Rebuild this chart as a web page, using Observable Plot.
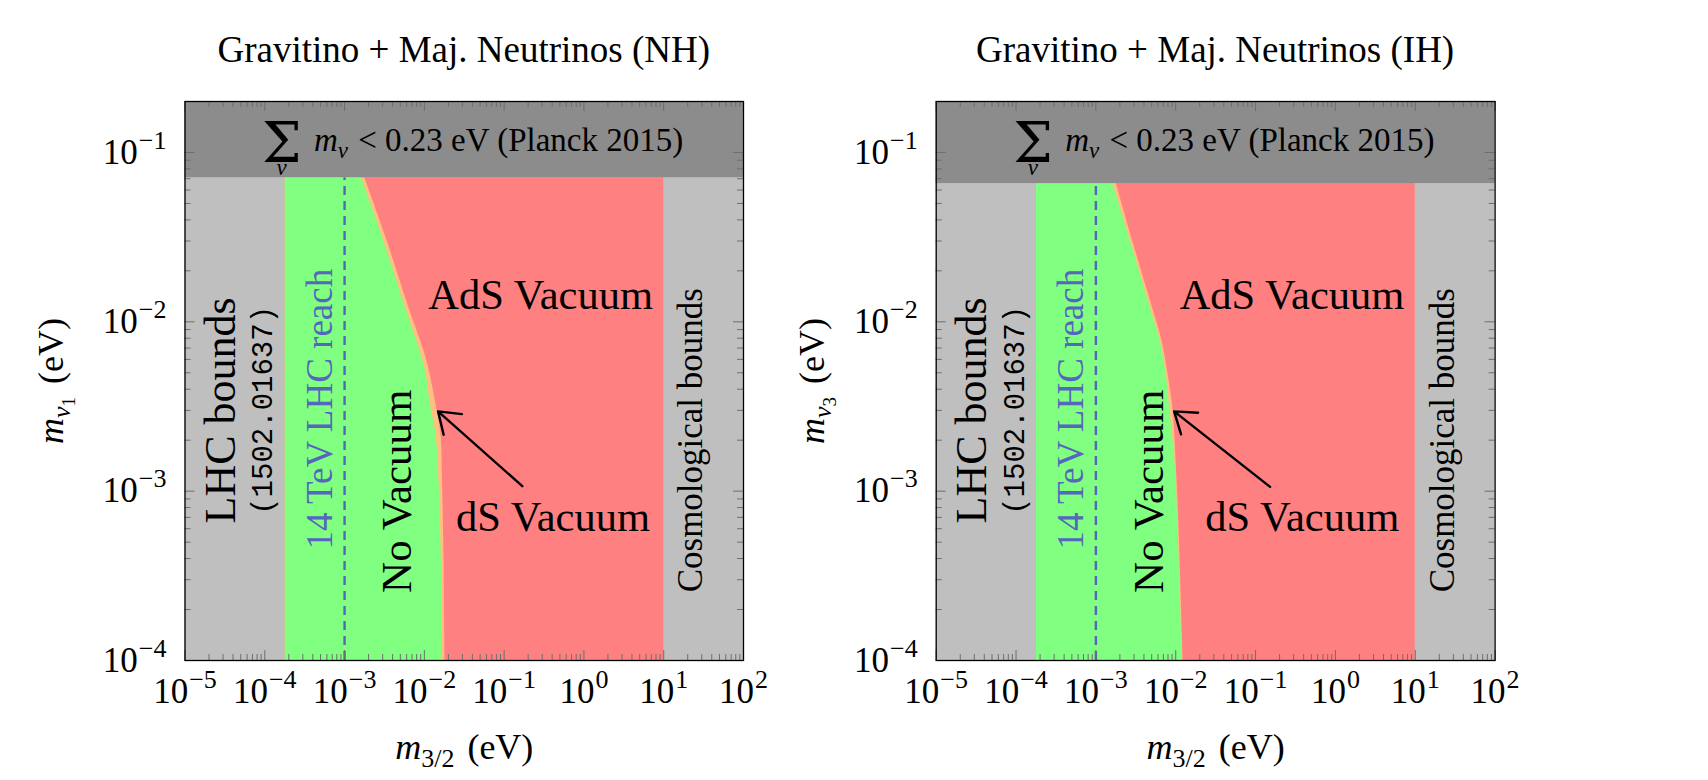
<!DOCTYPE html>
<html><head><meta charset="utf-8">
<script src="https://cdn.jsdelivr.net/npm/d3@7"></script>
<script src="https://cdn.jsdelivr.net/npm/@observablehq/plot@0.6"></script>
<style>
html,body{margin:0;padding:0;background:#fff;}
#fig{position:relative;width:1708px;height:780px;overflow:hidden;font-family:"Liberation Serif",serif;color:#000;}
.panel{position:absolute;top:0;width:854px;height:780px;}
.title{position:absolute;top:30px;height:40px;line-height:40px;font-size:37px;text-align:center;white-space:nowrap;}
.panel svg{position:absolute;top:80px;left:0;overflow:visible;}
</style></head><body><div id="fig"></div>
<script>
// ---------- data ----------
const xDomain = [1e-5, 1e2];           // m_{3/2} (eV)
const yDomain = [1e-4, 0.2];           // lightest neutrino mass (eV)
const xTickValues = [1e-5, 1e-4, 1e-3, 1e-2, 1e-1, 1e0, 1e1, 1e2];
const yTickValues = [1e-4, 1e-3, 1e-2, 1e-1];
const titles = ["Gravitino + Maj. Neutrinos (NH)", "Gravitino + Maj. Neutrinos (IH)"];
const yLabels = ["mν1 (eV)", "mν3 (eV)"];
const xLabel = "m3/2 (eV)";

const lhcBound = 1.8e-4;      // LHC bounds (1502.01637)
const lhc14Reach = 1e-3;      // 14 TeV LHC reach
const cosmoBound = 10;        // cosmological bounds
const planckNH = 0.071;       // sum m_nu < 0.23 eV, NH
const planckIH = 0.0655;      // sum m_nu < 0.23 eV, IH

// boundary of the vacuum regions (NH)
const mLightNH   = [0.071, 0.0318, 0.01285, 6.52e-3, 4.73e-3, 3.30e-3, 2.2e-3, 1.11e-3, 3.56e-4, 1e-4];
const noVacEdgeNH = [1.63e-3, 2.98e-3, 5.56e-3, 9.0e-3, 0.0107, 0.0118, 0.0139, 0.0153, 0.0164, 0.0169];
const adsEdgeNH   = [1.79e-3, 3.28e-3, 6.14e-3, 0.0101, 0.0120, 0.0139, 0.0161, 0.0169, 0.0177, 0.0182];
// boundary of the vacuum regions (IH)
const mLightIH   = [0.0655, 0.0298, 0.0120, 7.62e-3, 4.84e-3, 3.05e-3, 1.39e-3, 5.64e-4, 1e-4];
const noVacEdgeIH = [1.63e-3, 2.72e-3, 4.83e-3, 6.44e-3, 7.6e-3, 8.43e-3, 9.9e-3, 0.01074, 0.01216];
const adsEdgeIH   = [1.80e-3, 2.90e-3, 5.16e-3, 6.77e-3, 8.05e-3, 9.25e-3, 0.0102, 0.01107, 0.0124];

// annotation anchors (data coordinates)
const rotatedNotes = [
  {text: "LHC bounds", x: 2.79e-5, y: 3.0e-3},
  {text: "14 TeV LHC reach", x: 4.88e-4, y: 3.05e-3},
  {text: "No Vacuum", x: 4.63e-3, y: 1.0e-3},
  {text: "Cosmological bounds", x: 22, y: 2.0e-3}
];
const arxivNote = [{text: "(1502.01637)", x: 9.5e-5, y: 3.0e-3}];
const vacuumNotesNH = [{text: "AdS Vacuum", x: 7.35, y: 0.01439}, {text: "dS Vacuum", x: 6.73, y: 7.0e-4}];
const vacuumNotesIH = [{text: "AdS Vacuum", x: 7.3, y: 0.01439}, {text: "dS Vacuum", x: 6.3, y: 7.0e-4}];
const arrowNH = [{x1: 0.169, y1: 1.07e-3, x2: 0.01486, y2: 2.96e-3}];
const arrowIH = [{x1: 0.152, y1: 1.06e-3, x2: 9.55e-3, y2: 2.96e-3}];
const sumText = "Σν mν < 0.23 eV (Planck 2015)";
const sumNote = [{text: sumText, x: 9.2e-5, y: 0.117}];

// ---------- drawing ----------
const SVGNS = "http://www.w3.org/2000/svg";
function setParts(el, parts) {
  while (el.firstChild) el.removeChild(el.firstChild);
  for (const p of parts) {
    const ts = document.createElementNS(SVGNS, "tspan");
    ts.textContent = p.t;
    if (p.size) ts.setAttribute("font-size", p.size);
    if (p.font) ts.setAttribute("font-family", p.font);
    if (p.it) ts.setAttribute("font-style", "italic");
    if (p.dy) ts.setAttribute("dy", p.dy);
    if (p.dx) ts.setAttribute("dx", p.dx);
    el.appendChild(ts);
  }
}
function richify(svg) {
  svg.querySelectorAll("text").forEach(el => {
    const s = el.textContent;
    let m;
    if ((m = /^10\^(-?\d+)$/.exec(s))) {
      const e = +m[1];
      setParts(el, [{t: "10"}, {t: (e < 0 ? "\u2212" : "") + Math.abs(e), size: 26, dy: -15, dx: 1}]);
    } else if (s === xLabel) {
      setParts(el, [{t: "m", it: true}, {t: "3/2", size: 26, dy: 8}, {t: " (eV)", dy: -8, dx: 4}]);
    } else if (/^mν\d \(eV\)$/.test(s)) {
      setParts(el, [{t: "m", it: true}, {t: "ν", it: true, size: 26, dy: 7}, {t: s[2], size: 19, dy: 5}, {t: " (eV)", dy: -12, dx: 4}]);
    } else if (s === sumText) {
      setParts(el, [{t: "Σ", size: 56, font: '"DejaVu Serif", serif', dy: 11}, {t: "ν", it: true, size: 23, dy: 13},
                    {t: "m", it: true, dy: -24}, {t: "ν", it: true, size: 23, dy: 7},
                    {t: " < 0.23 eV (Planck 2015)", dy: -7, dx: 2}]);
      const ts = el.querySelectorAll("tspan");
      const wS = ts[0].getComputedTextLength(), wN = ts[1].getComputedTextLength();
      ts[1].setAttribute("dx", -(wS + wN) / 2);
      ts[2].setAttribute("dx", 52 - (wS + wN) / 2);
    }
  });
}

function minorTicks(lo, hi) {
  const out = [];
  for (let e = Math.floor(Math.log10(lo)); e < Math.ceil(Math.log10(hi)); e++)
    for (let k = 2; k < 10; k++) { const v = k * Math.pow(10, e); if (v > lo && v < hi) out.push(v); }
  return out;
}

function makePanel(cfg) {
  const W = 854, H = 700, mt = 21, mb = 120;
  const frameH = H - mt - mb, frameW = W - cfg.marginLeft - cfg.marginRight;
  const rows = cfg.ys.map((y, i) => ({y, g: cfg.green[i], r: cfg.red[i]}));
  const minX = minorTicks(xDomain[0], xDomain[1]);
  const minY = minorTicks(yDomain[0], yDomain[1]);
  const tickStroke = "#6e6e6e", maj = 10, mnr = 6;
  const curve = "catmull-rom";
  const blue = "#5566bd";
  const xMid = Math.sqrt(xDomain[0] * xDomain[1]);
  const yMid = Math.sqrt(yDomain[0] * yDomain[1]);
  return Plot.plot({
    width: W, height: H, marginTop: mt, marginBottom: mb,
    marginLeft: cfg.marginLeft, marginRight: cfg.marginRight,
    x: {type: "log", domain: xDomain},
    y: {type: "log", domain: yDomain},
    style: {fontFamily: '"Liberation Serif", serif', fontSize: "35px", background: "transparent", overflow: "visible", color: "black"},
    marks: [
      Plot.rect([{x1: xDomain[0], x2: xDomain[1], y1: yDomain[0], y2: yDomain[1]}], {x1: "x1", x2: "x2", y1: "y1", y2: "y2", fill: "#bfbfbf"}),
      Plot.rect([{x1: lhcBound, x2: cosmoBound, y1: yDomain[0], y2: cfg.planck}], {x1: "x1", x2: "x2", y1: "y1", y2: "y2", fill: "#ff8080"}),
      Plot.areaX(rows, {y: "y", x1: lhcBound, x2: "r", fill: "#ffbf80", curve}),
      Plot.areaX(rows, {y: "y", x1: lhcBound, x2: "g", fill: "#80ff80", curve}),
      Plot.ruleX([lhc14Reach], {x: d => d, y1: yDomain[0], y2: cfg.planck, stroke: blue, strokeWidth: 2.4, strokeDasharray: "9,6"}),
      Plot.rect([{x1: xDomain[0], x2: xDomain[1], y1: cfg.planck, y2: yDomain[1]}], {x1: "x1", x2: "x2", y1: "y1", y2: "y2", fill: "#8c8c8c"}),
      // inward ticks on all four sides
      Plot.tickX(minX, {x: d => d, insetTop: frameH - mnr, stroke: tickStroke}),
      Plot.tickX(minX, {x: d => d, insetBottom: frameH - mnr, stroke: tickStroke}),
      Plot.tickX(xTickValues, {x: d => d, insetTop: frameH - maj, stroke: tickStroke}),
      Plot.tickX(xTickValues, {x: d => d, insetBottom: frameH - maj, stroke: tickStroke}),
      Plot.tickY(minY, {y: d => d, insetRight: frameW - mnr, stroke: tickStroke}),
      Plot.tickY(minY, {y: d => d, insetLeft: frameW - mnr, stroke: tickStroke}),
      Plot.tickY(yTickValues, {y: d => d, insetRight: frameW - maj, stroke: tickStroke}),
      Plot.tickY(yTickValues, {y: d => d, insetLeft: frameW - maj, stroke: tickStroke}),
      Plot.frame({stroke: "black", strokeWidth: 1.3}),
      Plot.axisX(xTickValues, {anchor: "bottom", tickSize: 0, tickPadding: 18, fontSize: 35, label: null,
        tickFormat: d => `10^${Math.round(Math.log10(d))}`}),
      Plot.axisY(yTickValues, {anchor: "left", tickSize: 0, tickPadding: 18.5, fontSize: 35, label: null,
        tickFormat: d => `10^${Math.round(Math.log10(d))}`}),
      // annotations
      Plot.text(rotatedNotes.slice(0, 1), {x: "x", y: "y", text: "text", rotate: -90, fontSize: 44, lineAnchor: "middle"}),
      Plot.text(arxivNote, {x: "x", y: "y", text: "text", rotate: -90, fontSize: 29, fontFamily: '"Liberation Mono", monospace', lineAnchor: "middle"}),
      Plot.text(rotatedNotes.slice(1, 2), {x: "x", y: "y", text: "text", rotate: -90, fontSize: 37, fill: blue, lineAnchor: "middle"}),
      Plot.text(rotatedNotes.slice(2, 3), {x: "x", y: "y", text: "text", rotate: -90, fontSize: 43, lineAnchor: "middle"}),
      Plot.text(rotatedNotes.slice(3, 4), {x: "x", y: "y", text: "text", rotate: -90, fontSize: 35, lineAnchor: "middle"}),
      Plot.text(cfg.vacuum, {x: "x", y: "y", text: "text", fontSize: 42.5, textAnchor: "end", lineAnchor: "middle"}),
      Plot.arrow(cfg.arrow, {x1: "x1", y1: "y1", x2: "x2", y2: "y2", stroke: "black", strokeWidth: 2.4, headLength: 15, headAngle: 70}),
      Plot.text(sumNote, {x: "x", y: "y", text: "text", fontSize: 33, textAnchor: "start", lineAnchor: "middle"}),
      // axis labels
      Plot.text([xLabel], {x: xMid, frameAnchor: "bottom", dy: 87, text: d => d, fontSize: 36, textAnchor: "middle", lineAnchor: "middle"}),
      Plot.text([cfg.yLabel], {y: yMid, frameAnchor: "left", dx: cfg.yLabelDx, text: d => d, rotate: -90, fontSize: 36, textAnchor: "middle", lineAnchor: "middle"})
    ]
  });
}

const panels = [
  {title: titles[0], left: 0, marginLeft: 184.5, marginRight: 111, planck: planckNH, ys: mLightNH, green: noVacEdgeNH, red: adsEdgeNH,
   yLabel: yLabels[0], yLabelDx: -133.5, vacuum: vacuumNotesNH, arrow: arrowNH},
  {title: titles[1], left: 854, marginLeft: 81.7, marginRight: 213.4, planck: planckIH, ys: mLightIH, green: noVacEdgeIH, red: adsEdgeIH,
   yLabel: yLabels[1], yLabelDx: -124, vacuum: vacuumNotesIH, arrow: arrowIH}
];

const fig = document.getElementById("fig");
for (const p of panels) {
  const div = document.createElement("div");
  div.className = "panel";
  div.style.left = p.left + "px";
  const t = document.createElement("div");
  t.className = "title";
  t.style.left = p.marginLeft + "px";
  t.style.width = (854 - p.marginLeft - p.marginRight) + "px";
  t.textContent = p.title;
  div.appendChild(t);
  const svg = makePanel(p);
  div.appendChild(svg);
  fig.appendChild(div);
  richify(svg);
}
</script></body></html>
